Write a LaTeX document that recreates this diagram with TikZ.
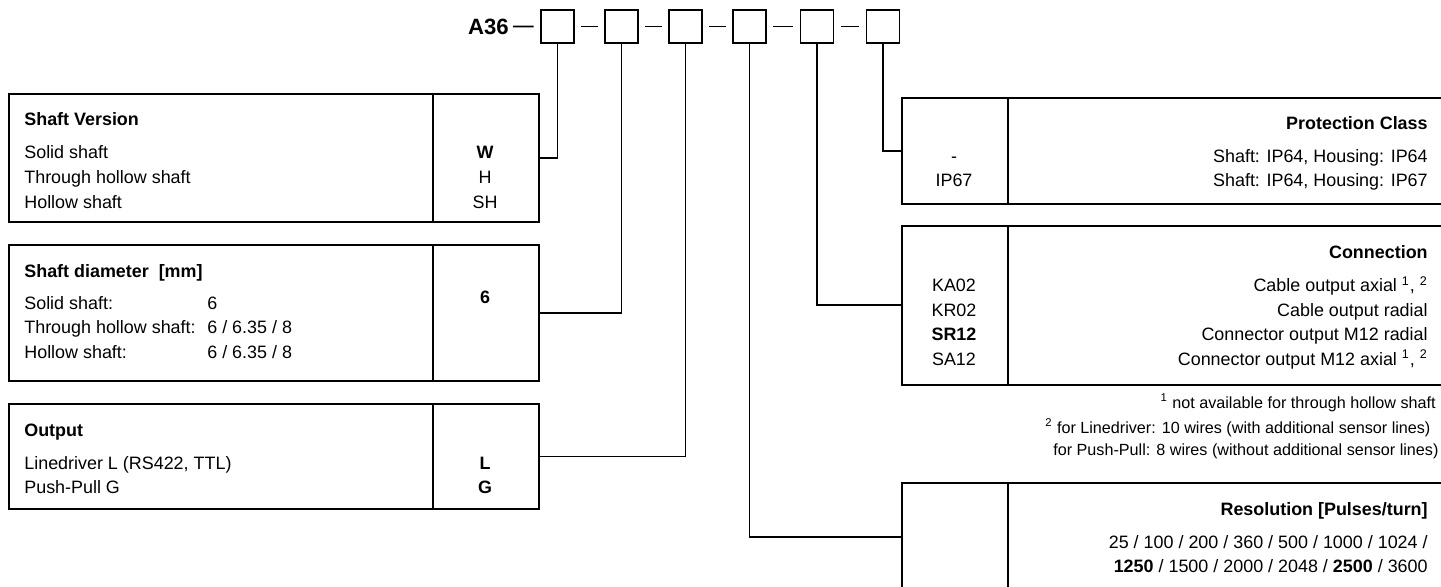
\documentclass[tikz,border=0pt]{standalone}
\usepackage{fontspec}
\setmainfont{Liberation Sans}

\begin{document}
\begin{tikzpicture}[
  x=0.02cm, y=-0.02cm,
  cell/.style={rectangle, draw, line width=1pt, inner sep=0pt, anchor=north west},
  keybox/.style={rectangle, draw, line width=1pt, minimum size=0.66cm, inner sep=0pt},
  wire/.style={line width=1pt},
  hyph/.style={line width=1pt, shorten <=3.7pt, shorten >=3.7pt},
  txt/.style={font=\fontsize{10.2}{12}\selectfont, inner sep=0pt},
  hd/.style={font=\fontsize{10.2}{12}\selectfont\bfseries, inner sep=0pt},
  codetxt/.style={txt, anchor=base},
  fnote/.style={font=\fontsize{9.2}{11}\selectfont, inner sep=0pt},
]
\path[use as bounding box] (0,0) rectangle (1441,586);
\clip (0,0) rectangle (1441,586);

% === TYPE KEY ===
\node[font=\fontsize{12.6}{14}\selectfont\bfseries, inner sep=0pt, anchor=base east] (a36) at (509, 34) {A36};
\foreach \x [count=\i] in {557.5, 621.5, 685.5, 749.5, 817, 883}
  \node[keybox] (k\i) at (\x, 26.5) {};
\draw[hyph, shorten <=2.3pt] (a36.east) -- (k1.west);
\foreach \i [count=\j from 2] in {1,...,5}
  \draw[hyph] (k\i.east) -- (k\j.west);

% === LEFT TABLES ===
\node[cell, minimum width=8.48cm, minimum height=2.56cm] (sv) at (8, 93) {};
\node[cell, minimum width=2.12cm, minimum height=2.56cm] (svc) at (432, 93) {};
\node[cell, minimum width=8.48cm, minimum height=2.72cm] (sd) at (8, 244) {};
\node[cell, minimum width=2.12cm, minimum height=2.72cm] (sdc) at (432, 244) {};
\node[cell, minimum width=8.48cm, minimum height=2.1cm] (out) at (8, 403) {};
\node[cell, minimum width=2.12cm, minimum height=2.1cm] (outc) at (432, 403) {};

% shaft version
\node[hd, anchor=base west] (svt) at (24, 125.5) {Shaft Version};
\foreach \t/\c [count=\i] in {Solid shaft/\textbf{W}, Through hollow shaft/H, Hollow shaft/SH} {
  \node[txt, anchor=base west] (svr\i) at (24, 133.5+25*\i) {\t};
  \node[codetxt] (svk\i) at (485, 133.5+25*\i) {\c};
}

% shaft diameter
\node[hd, anchor=base west] (sdt) at (24, 277.5) {Shaft diameter\ \ [mm]};
\node[txt, anchor=base west] (sdr1) at (24, 309.5) {Solid shaft:};
\node[txt, anchor=base west] (sdr2) at (24, 333.5) {Through hollow shaft:};
\node[txt, anchor=base west] (sdr3) at (24, 358.5) {Hollow shaft:};
\node[txt, anchor=base west] (sdv1) at (207, 309.5) {6};
\node[txt, anchor=base west] (sdv2) at (207, 333.5) {6 / 6.35 / 8};
\node[txt, anchor=base west] (sdv3) at (207, 358.5) {6 / 6.35 / 8};
\node[codetxt] (sdk1) at (485, 303.5) {\textbf{6}};

% output
\node[hd, anchor=base west] (outt) at (24, 436) {Output};
\node[txt, anchor=base west] (outr1) at (24, 469) {Linedriver L (RS422, TTL)};
\node[txt, anchor=base west] (outr2) at (24, 493.5) {Push-Pull G};
\node[codetxt] (outk1) at (485, 469) {\textbf{L}};
\node[codetxt] (outk2) at (485, 493.5) {\textbf{G}};

% === RIGHT TABLES ===
\node[cell, minimum width=2.12cm, minimum height=2.12cm] (ipc) at (901, 97) {};
\node[cell, minimum width=9.06cm, minimum height=2.12cm] (ip) at (1007, 97) {};
\node[cell, minimum width=2.12cm, minimum height=3.18cm] (conc) at (901, 225) {};
\node[cell, minimum width=9.06cm, minimum height=3.18cm] (con) at (1007, 225) {};
\node[cell, minimum width=2.12cm, minimum height=2.16cm] (resc) at (901, 482) {};
\node[cell, minimum width=9.06cm, minimum height=2.16cm] (res) at (1007, 482) {};

% protection class
\node[hd, anchor=base east] (ipt) at (1428, 129.5) {Protection Class};
\node[txt, anchor=base east] (ipr1) at (1428, 162.5) {Shaft: IP64, Housing: IP64};
\node[txt, anchor=base east] (ipr2) at (1428, 186.5) {Shaft: IP64, Housing: IP67};
\node[codetxt] (ipk1) at (954, 162.5) {-};
\node[codetxt] (ipk2) at (954, 186.5) {IP67};

% connection
\node[hd, anchor=base east] (cont) at (1428, 258) {Connection};
\node[txt, anchor=base east] (conr1) at (1428, 291.5) {Cable output axial \textsuperscript{1}, \textsuperscript{2}};
\node[txt, anchor=base east] (conr2) at (1428, 316) {Cable output radial};
\node[txt, anchor=base east] (conr3) at (1428, 340.5) {Connector output M12 radial};
\node[txt, anchor=base east] (conr4) at (1428, 365) {Connector output M12 axial \textsuperscript{1}, \textsuperscript{2}};
\node[codetxt] (conk1) at (954, 291.5) {KA02};
\node[codetxt] (conk2) at (954, 316) {KR02};
\node[codetxt] (conk3) at (954, 340.5) {\textbf{SR12}};
\node[codetxt] (conk4) at (954, 365) {SA12};

% footnotes
\node[fnote, anchor=base east] (fn1) at (1436, 408) {\textsuperscript{1} not available for through hollow shaft};
\node[fnote, anchor=base west] (fn2) at (1045, 433) {\textsuperscript{2} for Linedriver: 10 wires (with additional sensor lines)};
\node[fnote, anchor=base west] (fn3) at (1053, 455) {for Push-Pull: 8 wires (without additional sensor lines)};

% resolution
\node[hd, anchor=base east] (rest) at (1428, 515.5) {Resolution [Pulses/turn]};
\node[txt, anchor=base east] (resr1) at (1428, 548.5) {25 / 100 / 200 / 360 / 500 / 1000 / 1024 /};
\node[txt, anchor=base east] (resr2) at (1428, 572.5) {\textbf{1250} / 1500 / 2000 / 2048 / \textbf{2500} / 3600};

% === CONNECTORS ===
\draw[wire] (k1.south) |- (svc.east);
\draw[wire] (k2.south) |- (sdc.east);
\draw[wire] (k3.south) |- (outc.east);
\draw[wire] (k4.south) |- (resc.west);
\draw[wire] (k5.south) |- (conc.west);
\draw[wire] (k6.south) |- (ipc.west);
\end{tikzpicture}
\end{document}
